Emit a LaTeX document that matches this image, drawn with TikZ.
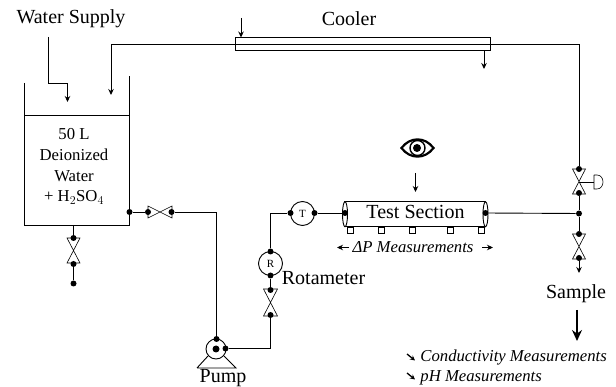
\documentclass[tikz,border=0pt]{standalone}
\usepackage{fontspec}
\setmainfont{Liberation Serif}
\usetikzlibrary{arrows.meta,positioning,calc}

\begin{document}
\begin{tikzpicture}[x=1pt,y=-1pt,>=Stealth,line width=0.9pt,font=\fontsize{20}{22}\selectfont]
\tikzset{
  jt/.style={circle,fill=black,inner sep=0pt,minimum size=6pt},
  label/.style={inner sep=0pt,align=center},
  meas/.style={inner sep=0pt,font=\fontsize{16.7}{18}\selectfont\itshape},
  inst/.style={circle,draw,inner sep=0pt,minimum size=24pt,font=\fontsize{11}{12}\selectfont},
  tap/.style={draw,fill=white,line width=0.6pt,minimum size=6pt,inner sep=0pt},
  tip/.style={-{Stealth[length=6pt,width=5.5pt]}},
  vlv/.style={line width=0.6pt,fill=white}
}
\useasboundingbox (0,0) rectangle (616,387);

% tank
\draw (24,83) -- (24,225) -- (129.5,225) -- (129.5,76);
\draw (24,115.5) -- (129.5,115.5);
\node[label,font=\fontsize{16.7}{20.8}\selectfont] (tank) at (74,166.5) {50 L\\ Deionized\\ Water\\ + H$_2$SO$_4$};
\node[label] (supply) at (71,19) {Water Supply};
\coordinate (s1) at (48,37);
\coordinate (s2) at (67.5,102);
\draw[tip] (s1) |- (67.5,83) -- (s2);

% tank drain
\draw[vlv] (67,238) -- (80,238) -- (67,263) -- (80,263) -- cycle;
\node[jt] (d0) at (73.5,238) {};
\node[jt] (d1) at (73.5,264) {};
\node[jt] (d2) at (73.5,283.5) {};
\coordinate (d3) at (73.5,225);
\draw (d3) -- (d0);
\draw (d1) -- (d2);

% outlet to pump
\draw[vlv] (148,206) -- (148,218) -- (172,206) -- (172,218) -- cycle;
\node[jt] (o0) at (129.5,212) {};
\node[jt] (o1) at (148,212) {};
\node[jt] (o2) at (171.5,212) {};
\draw (o0) -- (o1);

% pump
\draw (197,368) -- (236,368) -- (224,356) (197,368) -- (208,356);
\node[circle,draw,minimum size=20pt,inner sep=0pt] (pump) at (216,349) {};
\node[jt,minimum size=7pt] (pc) at (216,349) {};
\node[jt] (p0) at (216.5,339) {};
\node[jt] (p1) at (225.5,348.5) {};
\node[label] (pumplbl) at (223,378) {Pump};
\draw (o2) -| (p0);

% valve, rotameter
\draw[vlv] (263.5,289) -- (277.5,289) -- (263.5,316) -- (277.5,316) -- cycle;
\node[jt] (v0) at (270.5,290) {};
\node[jt] (v1) at (270.5,315) {};
\draw (p1) -| (v1);
\node[inst] (rot) at (270.5,263.5) {R};
\node[jt] (r0) at (270.5,251.5) {};
\node[jt] (r1) at (270.5,275.5) {};
\draw (r1) -- (v0);
\node[label] (rotlbl) at (323.5,278) {Rotameter};

% thermocouple
\node[inst] (temp) at (302.5,213.5) {T};
\node[jt] (t0) at (290.5,213) {};
\node[jt] (t1) at (314.5,213) {};
\draw (r0) |- (t0);

% test section
\draw (344,201.7) rectangle (485.5,226.7);
\foreach \x in {350,381,412.5,450,481}
  \node[tap] at (\x,230) {};
\draw[fill=white] (345,214.2) ellipse (2.5 and 12.5);
\draw[fill=white] (485.5,214.2) ellipse (2.5 and 12.5);
\node[jt] (ts0) at (345,213) {};
\node[jt] (ts1) at (485.5,213) {};
\node[label] (test) at (415.5,212) {Test Section};
\draw (t1) -- (ts0);
\node[jt] (j0) at (579,213.5) {};
\draw (ts1) -- (j0);
\node[meas] (dp) at (413,247) {ΔP Measurements};
\coordinate (dpl0) at (349,247.5);
\coordinate (dpl1) at (337,247.5);
\coordinate (dpr0) at (482,247.5);
\coordinate (dpr1) at (493,247.5);
\draw[tip] (dpl0) -- (dpl1);
\draw[tip] (dpr0) -- (dpr1);

% eye
\coordinate (e0) at (415.5,173);
\coordinate (e1) at (415.5,192);
\draw[tip] (e0) -- (e1);
\draw[line width=2.2pt,fill=white] (401.5,148) .. controls (410,136.5) and (425,136.5) .. (433.5,148) .. controls (425,159.5) and (410,159.5) .. (401.5,148) -- cycle;
\node[circle,draw,line width=1.4pt,minimum size=15pt,inner sep=0pt] (eye) at (417.5,148) {};
\node[circle,fill=black,minimum size=8pt,inner sep=0pt] (pupil) at (417,148) {};

% cooler
\node[label] (coolerlbl) at (349,19) {Cooler};
\draw (235,37.5) rectangle (490.7,50.5);
\coordinate (c0) at (241,18);
\coordinate (c1) at (241,37.5);
\coordinate (c2) at (484,50.5);
\coordinate (c3) at (484,69);
\draw[tip] (c0) -- (c1);
\draw[tip] (c2) -- (c3);

% return line
\draw[vlv] (572.5,169) -- (585.5,169) -- (572.5,194) -- (585.5,194) -- cycle;
\node[jt] (u0) at (579,169) {};
\node[jt] (u1) at (579,193) {};
\coordinate (rt) at (111,95);
\draw[tip] (u0) |- (111,44) -- (rt);
\draw (u1) -- (j0);
\coordinate (a0) at (579,182);
\coordinate (a1) at (594,182);
\draw[line width=0.6pt] (a0) -- (a1);
\draw[line width=0.6pt] (594,175) -- (594,189) -- (597,189) .. controls (605,189) and (605,175) .. (597,175) -- (594,175);

% sample line
\draw[vlv] (572.5,234) -- (585.5,234) -- (572.5,259) -- (585.5,259) -- cycle;
\node[jt] (l0) at (579,234) {};
\node[jt] (l1) at (579,258) {};
\draw (j0) -- (l0);
\coordinate (l2) at (579,273);
\draw[tip] (l1) -- (l2);
\node[label] (sample) at (576,294) {Sample};
\coordinate (b0) at (577,310);
\coordinate (b1) at (577,341);
\draw[-{Stealth[length=11pt,width=10pt]},line width=1.4pt] (b0) -- (b1);

% measurements
\node[meas,anchor=west] (cond) at (420,358) {Conductivity Measurements};
\node[meas,anchor=west] (ph) at (420,377.5) {pH Measurements};
\coordinate (m0) at (407,354);
\coordinate (m1) at (415,360.5);
\coordinate (m2) at (407,373);
\coordinate (m3) at (415,379.5);
\draw[-{Stealth[length=5pt,width=5pt]},line width=1.3pt] (m0) -- (m1);
\draw[-{Stealth[length=5pt,width=5pt]},line width=1.3pt] (m2) -- (m3);
\end{tikzpicture}
\end{document}
